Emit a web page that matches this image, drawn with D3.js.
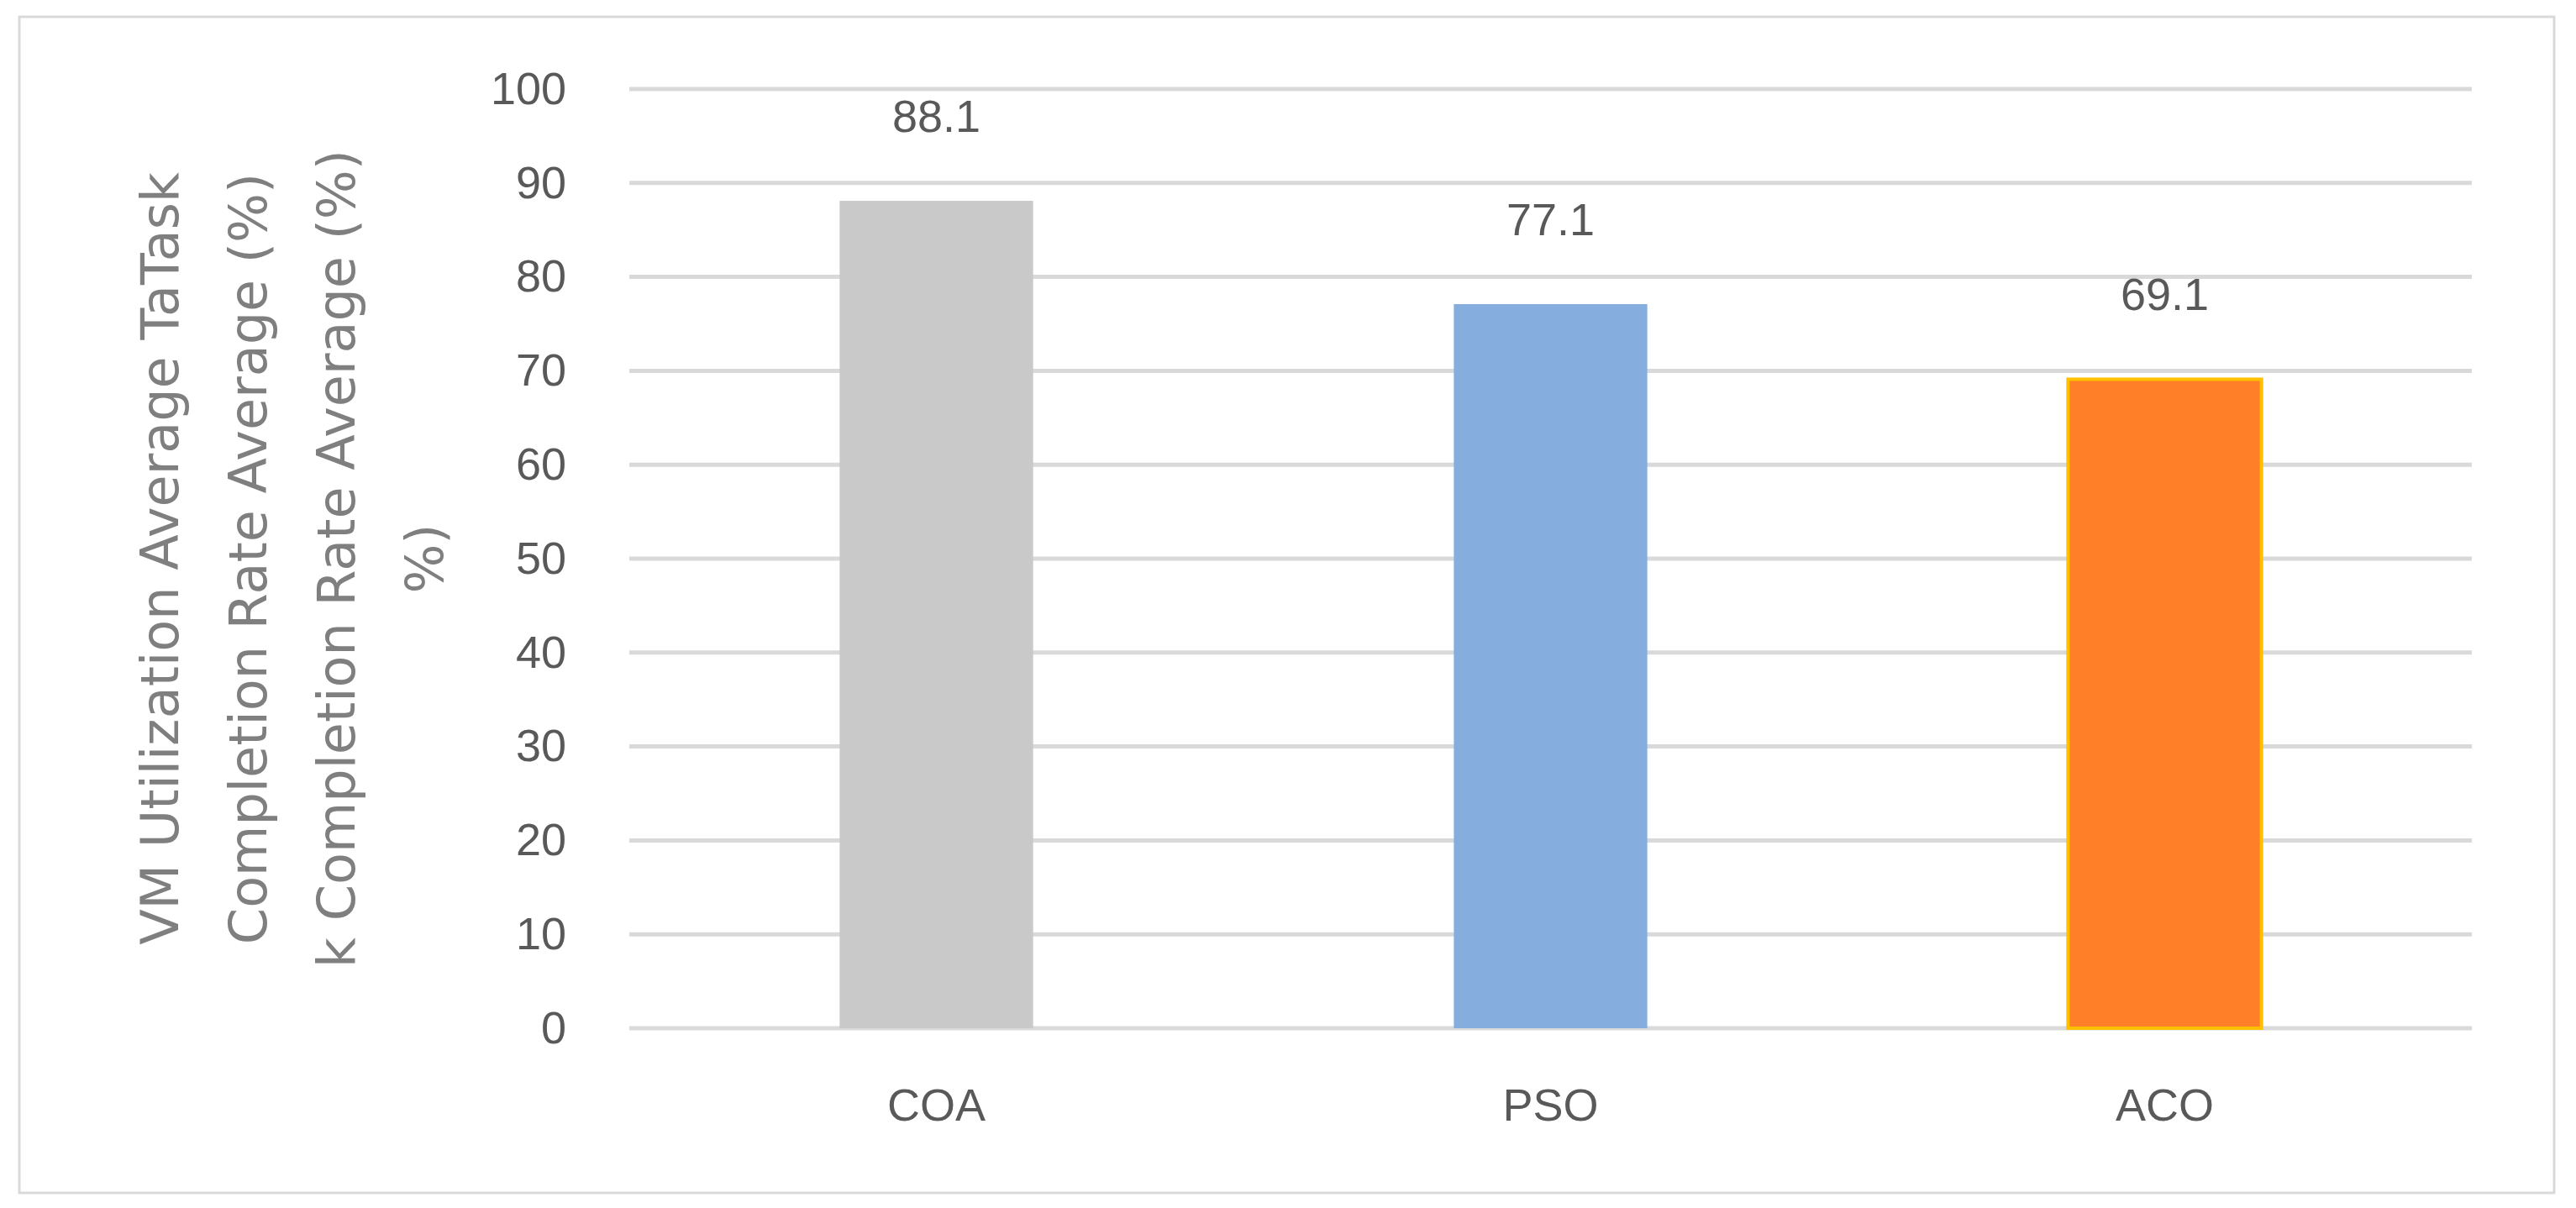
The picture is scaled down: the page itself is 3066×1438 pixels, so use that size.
<!DOCTYPE html>
<html lang="en">
<head>
<meta charset="UTF-8">
<title>Completion Rate</title>
<script src="https://d3js.org/d3.v7.min.js"></script>
<style>
  body { margin: 0; background: #fff; font-family: "Liberation Sans Narrow", "Liberation Sans", Arial, sans-serif; }
</style>
</head>
<body>
<svg id="chart" width="3066" height="1438"></svg>
<script>
// data
const categories = ["COA", "PSO", "ACO"];
const values = [88.1, 77.1, 69.1];
const barColors = ["#C9C9C9", "#85ADDE", "#FE7F27"];
const yTicks = [0, 10, 20, 30, 40, 50, 60, 70, 80, 90, 100];
const titleLines = ["VM Utilization Average TaTask", "Completion Rate Average (%)", "k Completion Rate Average (%)", "%)"];

const svg = d3.select("#chart");
const m = { left: 749, right: 2942, top: 106, bottom: 1224 };

// frame
svg.append("rect").attr("x", 23).attr("y", 20).attr("width", 3017).attr("height", 1400)
  .attr("fill", "none").attr("stroke", "#D9D9D9").attr("stroke-width", 3);

const x = d3.scaleBand().domain(categories).range([m.left, m.right]).paddingInner(0.685).paddingOuter(0.3425);
const y = d3.scaleLinear().domain([0, 100]).range([m.bottom, m.top]);

// gridlines
svg.append("g").selectAll("line").data(yTicks).enter().append("line")
  .attr("x1", m.left).attr("x2", m.right)
  .attr("y1", d => y(d)).attr("y2", d => y(d))
  .attr("stroke", "#D9D9D9").attr("stroke-width", 5);

// y axis labels
const yAxis = svg.append("g").attr("transform", `translate(${m.left - 30},0)`)
  .call(d3.axisLeft(y).tickValues(yTicks).tickSize(0).tickPadding(45));
yAxis.select(".domain").remove();
yAxis.selectAll("text").attr("fill", "#595959").style("font-size", "54px").style("font-family", "inherit");

// bars
svg.append("g").selectAll("rect").data(values).enter().append("rect")
  .attr("x", (d, i) => x(categories[i]))
  .attr("y", d => y(d))
  .attr("width", x.bandwidth())
  .attr("height", d => y(0) - y(d))
  .attr("fill", (d, i) => barColors[i])
  .attr("stroke", (d, i) => i === 2 ? "#FFC000" : "none")
  .attr("stroke-width", 4);

// value labels
svg.append("g").selectAll("text").data(values).enter().append("text")
  .attr("x", (d, i) => x(categories[i]) + x.bandwidth() / 2)
  .attr("y", d => y(d) - 82)
  .attr("text-anchor", "middle").attr("fill", "#595959").style("font-size", "54px")
  .text(d => d.toFixed(1));

// x axis labels
svg.append("g").selectAll("text").data(categories).enter().append("text")
  .attr("x", d => x(d) + x.bandwidth() / 2)
  .attr("y", 1334)
  .attr("text-anchor", "middle").attr("fill", "#595959").style("font-size", "54px")
  .text(d => d);

// y title
const title = svg.append("text")
  .attr("transform", "translate(0,665) rotate(-90)")
  .attr("text-anchor", "middle").attr("fill", "#7F7F7F")
  .style("font-family", "'DejaVu Sans', sans-serif").style("font-size", "62px");
titleLines.forEach((t, i) => {
  title.append("tspan").attr("x", 0).attr("y", 212 + i * 105).text(t);
});
</script>
</body>
</html>
